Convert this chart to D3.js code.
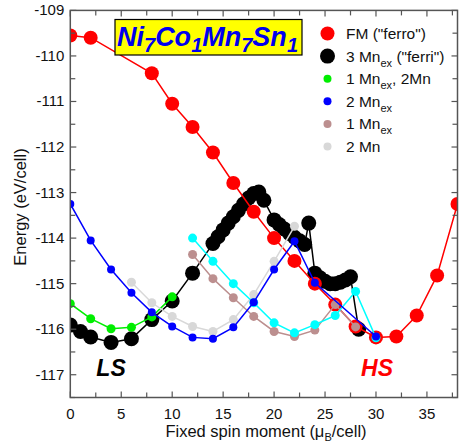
<!DOCTYPE html>
<html>
<head>
<meta charset="utf-8">
<script src="https://cdn.jsdelivr.net/npm/d3@7"></script>
<style>
  body { margin: 0; background: #fff; }
  text { font-family: 'Liberation Sans', Arial, sans-serif; }
</style>
</head>
<body>
<div id="chart"></div>
<script>
const xTicks = [0, 5, 10, 15, 20, 25, 30, 35]
const yTicks = [-117, -116, -115, -114, -113, -112, -111, -110, -109]

// FM ("ferro")
const ferroX = [0, 2, 8, 10, 12, 14, 16, 18, 20, 22, 24, 26, 28, 30, 32, 34, 36, 38]
const ferroY = [-109.55, -109.6, -110.38, -111.05, -111.56, -112.12, -112.79, -113.42, -114.0, -114.5, -115.0, -115.46, -115.94, -116.18, -116.16, -115.7, -114.82, -113.25]

// 3 Mn_ex ("ferri")
const ferriX = [0, 1, 2, 4, 6, 8, 10, 12, 14, 14.5, 15, 15.5, 16, 16.5, 17, 17.5, 18, 18.5, 19,
  20, 20.5, 21, 21.5, 22, 22.5, 23, 23.4, 24, 24.5, 25, 25.5, 26, 26.5, 27, 27.5, 28.3]
const ferriY = [-115.91, -116.05, -116.17, -116.29, -116.21, -115.79, -115.38, -114.77, -114.12, -113.97,
  -113.82, -113.67, -113.53, -113.39, -113.25, -113.12, -113.02, -112.99, -113.17,
  -113.6, -113.7, -113.8, -113.9, -113.98, -114.06, -114.14, -113.67, -114.77, -114.87, -114.95,
  -115.0, -115.0, -114.97, -114.92, -114.85, -116.0]

// 1 Mn_ex, 2Mn
const greenX = [0, 2, 4, 6, 8, 10]
const greenY = [-115.44, -115.77, -115.99, -115.96, -115.73, -115.29]

// 2 Mn_ex
const blueX = [0, 2, 4, 6, 8, 10, 12, 14, 16, 18, 20, 22, 24, 30]
const blueY = [-113.25, -114.05, -114.69, -115.2, -115.63, -115.94, -116.18, -116.21, -115.96, -115.41, -114.69, -114.07, -114.98, -116.16]

// 1 Mn_ex
const brownX = [12, 14, 16, 18, 20, 22, 24, 26, 28]
const brownY = [-114.36, -114.89, -115.31, -115.72, -116.05, -116.16, -116.02, -115.46, -115.95]

// 2 Mn
const grayX = [6, 8, 10, 12, 14, 16, 18, 20, 22]
const grayY = [-114.97, -115.42, -115.72, -115.94, -116.05, -115.79, -115.24, -114.51, -113.74]

// unlabelled cyan curve
const cyanX = [12, 14, 16, 18, 20, 22, 24, 26, 28, 30]
const cyanY = [-114.0, -114.51, -115.0, -115.42, -115.86, -116.08, -115.9, -115.7, -115.17, -116.19]

const W = 459
const H = 443
const mLeft = 70.3, mTop = 10.4, mRight = 457.5, mBottom = 397.5

const svg = d3.select('#chart').append('svg').attr('width', W).attr('height', H)

const x = d3.scaleLinear().domain([0, 38]).range([mLeft, mRight])
const y = d3.scaleLinear().domain([-117.5, -109]).range([mBottom, mTop])

svg.append('clipPath').attr('id', 'clip')
  .append('rect').attr('x', mLeft).attr('y', mTop).attr('width', mRight - mLeft).attr('height', mBottom - mTop)

const plot = svg.append('g').attr('clip-path', 'url(#clip)')

function zip(xs, ys) {
  return xs.map((d, i) => ({ x: d, y: ys[i] }))
}

function drawSeries(xs, ys, color, r, lw) {
  const data = zip(xs, ys)
  const line = d3.line().x(d => x(d.x)).y(d => y(d.y))
  const g = plot.append('g')
  g.append('path').datum(data).attr('d', line)
    .attr('fill', 'none').attr('stroke', color).attr('stroke-width', lw)
  g.selectAll('circle').data(data).enter().append('circle')
    .attr('cx', d => x(d.x)).attr('cy', d => y(d.y)).attr('r', r)
    .attr('fill', color)
}

drawSeries(ferriX, ferriY, '#000000', 7.5, 1.5)
drawSeries(ferroX, ferroY, '#ff0000', 7, 1.5)
drawSeries(greenX, greenY, '#00ee00', 4.5, 1.5)
drawSeries(grayX, grayY, '#d8d8d8', 4.5, 1.5)
drawSeries(brownX, brownY, '#bc8f8f', 4.5, 1.5)
drawSeries(cyanX, cyanY, '#00ffff', 4.5, 1.5)
drawSeries(blueX, blueY, '#0000ff', 4, 1.5)

// frame and ticks
svg.append('rect').attr('x', mLeft).attr('y', mTop).attr('width', mRight - mLeft).attr('height', mBottom - mTop)
  .attr('fill', 'none').attr('stroke', '#555').attr('stroke-width', 1.5)

const xMinor = d3.range(0, 38.01, 2.5)
const yMinor = d3.range(-117.5, -108.99, 0.5)
const tickG = svg.append('g').attr('stroke', '#555').attr('stroke-width', 1.2)
xMinor.forEach(v => {
  const len = v % 5 === 0 ? 6 : 5
  tickG.append('line').attr('x1', x(v)).attr('x2', x(v)).attr('y1', mBottom).attr('y2', mBottom - len)
  tickG.append('line').attr('x1', x(v)).attr('x2', x(v)).attr('y1', mTop).attr('y2', mTop + len)
})
yMinor.forEach(v => {
  const len = Number.isInteger(v) ? 6 : 5
  tickG.append('line').attr('x1', mLeft).attr('x2', mLeft + len).attr('y1', y(v)).attr('y2', y(v))
  tickG.append('line').attr('x1', mRight).attr('x2', mRight - len).attr('y1', y(v)).attr('y2', y(v))
})

svg.append('g').selectAll('text').data(xTicks).enter().append('text')
  .attr('x', d => x(d)).attr('y', mBottom + 21).attr('text-anchor', 'middle')
  .attr('font-size', 15).attr('fill', '#111').text(d => d)

svg.append('g').selectAll('text').data(yTicks).enter().append('text')
  .attr('x', mLeft - 6).attr('y', d => y(d) + 5).attr('text-anchor', 'end')
  .attr('font-size', 15).attr('fill', '#111').text(d => d)

// axis titles
const xl = svg.append('text').attr('x', 266).attr('y', 437).attr('text-anchor', 'middle')
  .attr('font-size', 16.5).attr('fill', '#111')
xl.append('tspan').text('Fixed spin moment (\u03bc')
xl.append('tspan').attr('font-size', 11).attr('dy', 4).text('B')
xl.append('tspan').attr('dy', -4).text('/cell)')

svg.append('text').attr('transform', 'translate(26,207) rotate(-90)')
  .attr('text-anchor', 'middle').attr('font-size', 16.5).attr('fill', '#111')
  .text('Energy (eV/cell)')

// title box
svg.append('rect').attr('x', 115).attr('y', 19.5).attr('width', 187).attr('height', 35.5)
  .attr('fill', '#ffff00').attr('stroke', '#000').attr('stroke-width', 1.2)
const title = svg.append('text').attr('x', 207.5).attr('y', 46).attr('text-anchor', 'middle')
  .attr('font-size', 27).attr('font-weight', 'bold').attr('font-style', 'italic').attr('fill', '#0000ee')
const parts = [['Ni', '7'], ['Co', '1'], ['Mn', '7'], ['Sn', '1']]
parts.forEach((p, i) => {
  title.append('tspan').attr('dy', i === 0 ? 0 : -6).text(p[0])
  title.append('tspan').attr('font-size', 20).attr('dy', 6).text(p[1])
})

// legend
const legendItems = [
  { color: '#ff0000', r: 7, label: ['FM ("ferro")'] },
  { color: '#000000', r: 7.5, label: ['3 Mn', 'ex', ' ("ferri")'] },
  { color: '#00ee00', r: 4, label: ['1 Mn', 'ex', ', 2Mn'] },
  { color: '#0000ff', r: 4, label: ['2 Mn', 'ex'] },
  { color: '#bc8f8f', r: 4, label: ['1 Mn', 'ex'] },
  { color: '#d8d8d8', r: 4, label: ['2 Mn'] }
]
const lg = svg.append('g')
legendItems.forEach((d, i) => {
  const cy = 33.5 + i * 22.6
  lg.append('circle').attr('cx', 327.5).attr('cy', cy).attr('r', d.r).attr('fill', d.color)
  const t = lg.append('text').attr('x', 346).attr('y', cy + 5.5).attr('font-size', 15.5).attr('fill', '#111')
  t.append('tspan').text(d.label[0])
  if (d.label.length > 1) {
    t.append('tspan').attr('font-size', 11).attr('dy', 5).text(d.label[1])
    if (d.label[2]) t.append('tspan').attr('dy', -5).text(d.label[2])
  }
})

// LS / HS labels
svg.append('text').attr('x', x(4)).attr('y', 376).attr('text-anchor', 'middle')
  .attr('font-size', 23).attr('font-weight', 'bold').attr('font-style', 'italic').attr('fill', '#000')
  .text('LS')
svg.append('text').attr('x', x(30.1)).attr('y', 376).attr('text-anchor', 'middle')
  .attr('font-size', 23).attr('font-weight', 'bold').attr('font-style', 'italic').attr('fill', '#ff0000')
  .text('HS')
</script>
</body>
</html>
